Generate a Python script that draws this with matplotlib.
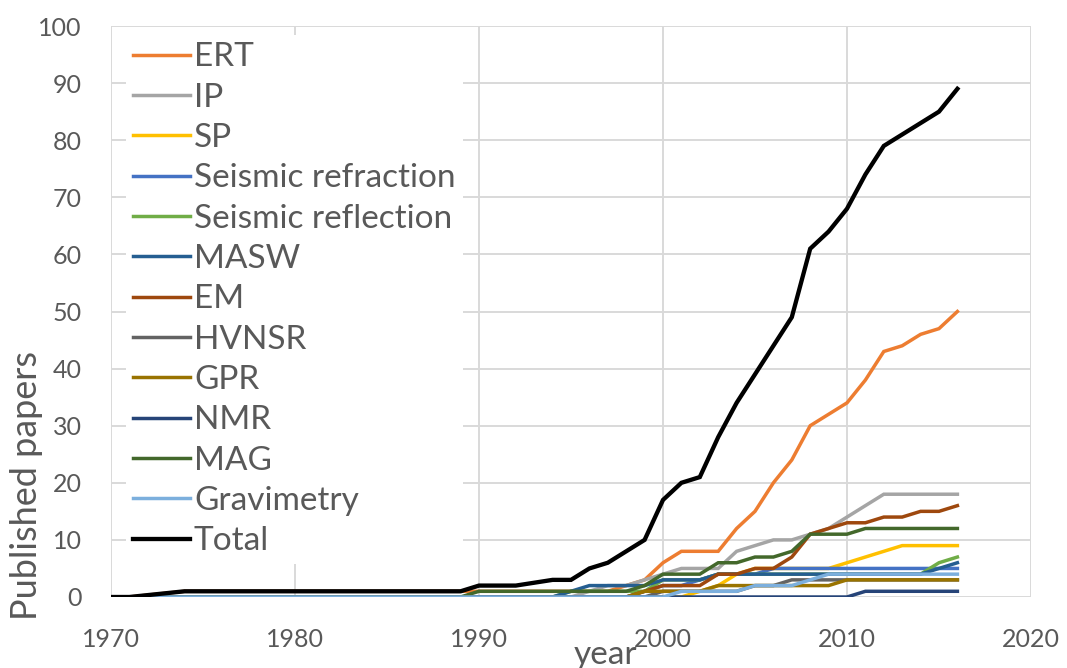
import matplotlib.pyplot as plt

plt.rcParams['font.family'] = ['Lato', 'DejaVu Sans']

# years with a data point (1972 and 1973 have none)
years = [1970, 1971] + list(range(1974, 2017))

ert = [0, 0] + [1] * 24 + [2, 3] + [6, 8, 8, 8, 12, 15, 20, 24, 30, 32, 34, 38, 43, 44, 46, 47, 50]
ip = [0] * 24 + [1, 2, 2, 3] + [4, 5, 5, 5, 8, 9, 10, 10, 11, 12, 14, 16, 18, 18, 18, 18, 18]
sp = [0] * 30 + [1, 2, 4, 5, 5, 5, 5, 5, 6, 7, 8, 9, 9, 9, 9]
refraction = [0] * 27 + [1, 2, 2, 3, 4, 4, 4, 5, 5, 5, 5, 5, 5, 5, 5, 5, 5, 5]
reflection = [0] * 23 + [1, 1, 1, 1, 1, 3, 3, 3] + [4] * 12 + [6, 7]
masw = [0] * 23 + [1, 2, 2, 2, 2, 3, 3, 3] + [4] * 12 + [5, 6]
em = [0] * 27 + [1, 2, 2, 2, 4, 4, 5, 5, 7, 11, 12, 13, 13, 14, 14, 15, 15, 16]
hvnsr = [0] * 28 + [1, 1, 1, 1, 1, 2, 2] + [3] * 10
gpr = [0] * 27 + [1, 1, 1, 1] + [2] * 7 + [3] * 7
nmr = [0] * 39 + [1] * 6
mag = [0] * 18 + [1] * 9 + [2, 4, 4, 4, 6, 6, 7, 7, 8, 11, 11, 11] + [12] * 6
grav = [0] * 29 + [1, 1, 1, 1, 2, 2, 2, 3] + [4] * 8
total = [0, 0] + [1] * 16 + [2, 2, 2, 2.5, 3, 3, 5, 6, 8, 10, 17, 20, 21, 28, 34, 39,
                             44, 49, 61, 64, 68, 74, 79, 81, 83, 85, 89]

series = [
    ("ERT", ert, "#ED7D31"),
    ("IP", ip, "#A5A5A5"),
    ("SP", sp, "#FFC000"),
    ("Seismic refraction", refraction, "#4472C4"),
    ("Seismic reflection", reflection, "#70AD47"),
    ("MASW", masw, "#255E91"),
    ("EM", em, "#9E480E"),
    ("HVNSR", hvnsr, "#636363"),
    ("GPR", gpr, "#997300"),
    ("NMR", nmr, "#264478"),
    ("MAG", mag, "#43682B"),
    ("Gravimetry", grav, "#7CAFDD"),
    ("Total", total, "black"),
]

fig = plt.figure(figsize=(10.67, 6.68), dpi=100)
ax = fig.add_axes([111 / 1067, 1 - 597 / 668, (1031 - 111) / 1067, (597 - 26) / 668])

for name, vals, col in series:
    lw = 3.1 if name == "Total" else 2.5
    ax.plot(years, vals, color=col, lw=lw, label=name, solid_joinstyle='miter')

ax.set_xlim(1970, 2020)
ax.set_ylim(0, 100)
ax.set_xticks(range(1970, 2021, 10))
ax.set_yticks(range(0, 101, 10))
ax.grid(True, color="#d9d9d9", lw=1.4)
ax.set_axisbelow(True)
for s in ax.spines.values():
    s.set_visible(False)
ax.tick_params(length=0, labelsize=18, labelcolor="#595959")
ax.tick_params(axis='y', pad=21)
ax.tick_params(axis='x', pad=22)

leg = ax.legend(loc='upper left', bbox_to_anchor=(126 / 1067, 1 - 35 / 668),
                bbox_transform=fig.transFigure, fontsize=24, frameon=True,
                facecolor='white', edgecolor='none', framealpha=1, fancybox=False,
                handlelength=1.7, handletextpad=0.12, labelspacing=0.31,
                borderpad=0.22, borderaxespad=0)
for t in leg.get_texts():
    t.set_color("#595959")

fig.text(27 / 1067, 1 - 485 / 668, "Published papers", rotation=90,
         ha='center', va='center', fontsize=26, color="#595959")
fig.text(605 / 1067, 1 - 655 / 668, "year", ha='center', va='center',
         fontsize=24, color="#595959")

fig.savefig("out.png", dpi=100)
